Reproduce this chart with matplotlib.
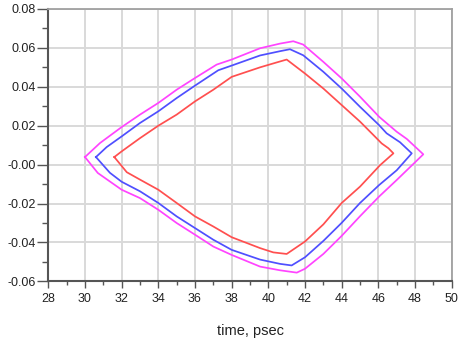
import matplotlib
matplotlib.use("Agg")
import matplotlib.pyplot as plt
from matplotlib.ticker import MultipleLocator, FixedLocator

plt.rcParams['font.family'] = ['Liberation Sans', 'DejaVu Sans']

# Outer contour (magenta)
mag_x = [30.0, 30.82, 32.0, 33.0, 34.0, 35.0, 36.0, 37.18, 38.0, 39.55, 40.64, 41.36,
         41.9, 43.0, 44.0, 45.0, 46.04, 47.0, 47.55, 48.45,
         47.0, 46.04, 45.0, 44.0, 43.0, 42.0, 41.55, 40.64, 39.55, 38.0, 37.0, 36.0,
         35.0, 34.0, 33.0, 32.0, 30.7, 30.0]
mag_y = [0.0039, 0.0111, 0.0193, 0.0257, 0.0317, 0.0385, 0.0445, 0.0514, 0.054, 0.0598,
         0.0622, 0.0634, 0.0617, 0.0528, 0.0443, 0.0349, 0.0246, 0.0169, 0.0132, 0.0053,
         -0.0079, -0.0164, -0.0265, -0.0366, -0.0459, -0.0535, -0.0555, -0.0543,
         -0.0524, -0.0464, -0.0421, -0.036, -0.03, -0.0232, -0.0172, -0.0129, -0.0043,
         0.0039]

# Middle contour (blue)
blue_x = [30.6, 31.18, 32.0, 33.0, 34.0, 35.0, 36.0, 37.27, 38.0, 39.55, 40.64, 41.18,
          41.9, 43.0, 44.0, 45.0, 46.04, 46.45, 47.18, 47.82,
          47.0, 46.04, 45.0, 44.0, 43.0, 42.0, 41.27, 40.64, 39.55, 38.0, 37.0, 36.0,
          35.0, 34.0, 33.0, 32.0, 31.36, 30.6]
blue_y = [0.0039, 0.009, 0.0145, 0.0214, 0.0274, 0.0342, 0.0406, 0.0485, 0.0509, 0.0561,
          0.0583, 0.0593, 0.0562, 0.0477, 0.0391, 0.0297, 0.0203, 0.0161, 0.0115, 0.0058,
          -0.0029, -0.0105, -0.0197, -0.0299, -0.0392, -0.0476, -0.0518, -0.051,
          -0.0488, -0.0438, -0.0386, -0.0326, -0.0266, -0.0197, -0.0137, -0.0088,
          -0.0042, 0.0039]

# Inner contour (red)
red_x = [31.6, 32.0, 33.0, 34.0, 35.0, 36.0, 37.0, 38.0, 39.55, 40.45, 41.0, 42.0, 43.0,
         44.0, 45.0, 45.73, 46.18, 46.55, 46.82,
         46.09, 45.0, 44.0, 43.0, 42.0, 41.0, 40.27, 39.55, 38.0, 37.0, 36.0, 35.0,
         34.0, 33.0, 32.28, 31.6]
red_y = [0.0039, 0.0068, 0.0136, 0.02, 0.0257, 0.0325, 0.0385, 0.0451, 0.05, 0.0525,
         0.054, 0.0468, 0.0391, 0.0306, 0.0221, 0.0152, 0.0109, 0.0084, 0.0058,
         -0.0003, -0.0113, -0.0197, -0.0307, -0.0395, -0.0459, -0.0451, -0.0429,
         -0.0373, -0.0318, -0.0266, -0.0197, -0.0129, -0.0077, -0.0039, 0.0039]

x_ticks = [28, 30, 32, 34, 36, 38, 40, 42, 44, 46, 48, 50]
y_ticks = [-0.06, -0.04, -0.02, 0.0, 0.02, 0.04, 0.06, 0.08]
y_labels = ['-0.06', '-0.04', '-0.02', '-0.00', '0.02', '0.04', '0.06', '0.08']
x_label = "time, psec"

fig = plt.figure(figsize=(4.6, 3.44), dpi=100)
ax = fig.add_axes([0.105, 0.182, 0.877, 0.792])

ax.plot(mag_x, mag_y, color='#ff44ff', lw=1.25, zorder=3)
ax.plot(blue_x, blue_y, color='#4f4fff', lw=1.25, zorder=3)
ax.plot(red_x, red_y, color='#ff4f4f', lw=1.25, zorder=3)

ax.set_xlim(28, 50)
ax.set_ylim(-0.06, 0.08)
ax.xaxis.set_major_locator(FixedLocator(x_ticks))
ax.set_xticklabels([str(t) for t in x_ticks])
ax.yaxis.set_major_locator(FixedLocator(y_ticks))
ax.set_yticklabels(y_labels)
ax.xaxis.set_minor_locator(MultipleLocator(1))
ax.yaxis.set_minor_locator(MultipleLocator(0.01))

ax.grid(True, which='major', color='#d9d9d9', lw=1.4, zorder=0)

ax.tick_params(axis='y', which='major', length=8, width=1, color='#555555',
               labelsize=9, pad=1, labelcolor='#222222')
ax.tick_params(axis='y', which='minor', length=4.3, width=1, color='#555555')
ax.tick_params(axis='x', which='major', length=5, width=1, color='#555555',
               labelsize=9, pad=3, labelcolor='#222222')
ax.tick_params(axis='x', which='minor', length=3, width=1, color='#555555')

for s in ['left', 'bottom']:
    ax.spines[s].set_color('#555555')
    ax.spines[s].set_linewidth(1.5)
for s in ['top', 'right']:
    ax.spines[s].set_color('#a0a0a0')
    ax.spines[s].set_linewidth(1.3)

ax.set_xlabel(x_label, fontsize=10.5, color='#222222', labelpad=14)

fig.savefig("out.png", dpi=100)
